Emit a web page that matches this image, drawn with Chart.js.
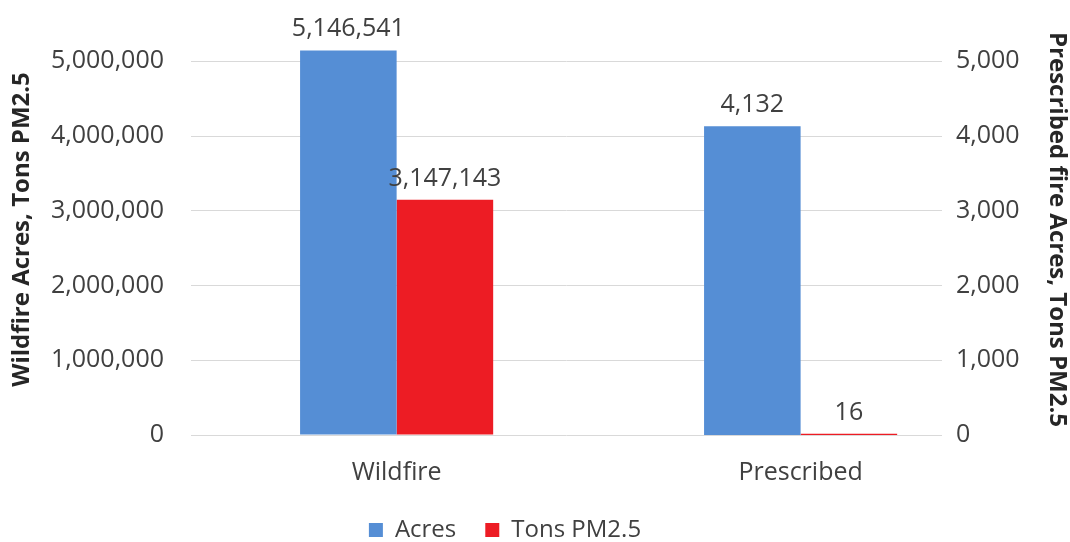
<!DOCTYPE html>
<html>
<head>
<meta charset="utf-8">
<title>Wildfire vs Prescribed fire</title>
<script src="https://cdn.jsdelivr.net/npm/chart.js@4.4.0/dist/chart.umd.min.js"></script>
<style>
  html, body { margin: 0; padding: 0; background: #fff; }
  #wrap { width: 1070px; height: 542px; position: relative; }
</style>
</head>
<body>
<div id="wrap"><canvas id="fireChart"></canvas></div>
<script>
var categories = ["Wildfire", "Prescribed"];
var seriesNames = ["Acres", "Tons PM2.5"];
// wildfire numbers use the left axis, prescribed fire the right one
var wildfireValues = [5146541, 3147143];
var prescribedValues = [4132, 16];
var leftTicks = [0, 1000000, 2000000, 3000000, 4000000, 5000000];
var rightTicks = [0, 1000, 2000, 3000, 4000, 5000];

var colors = ["#558ED5", "#ED1C24"];
var textColor = "#404040";
var fontFamily = "'Open Sans', sans-serif";

var datasets = [];
seriesNames.forEach(function (name, s) {
    datasets.push({
        label: name,
        yAxisID: "y",
        data: [{ x: 0, y: wildfireValues[s] }, { x: 1, y: null }],
        backgroundColor: colors[s]
    });
});
seriesNames.forEach(function (name, s) {
    datasets.push({
        label: name,
        yAxisID: "y1",
        data: [{ x: 0, y: null }, { x: 1, y: prescribedValues[s] }],
        backgroundColor: colors[s]
    });
});

// value labels above each bar
var barLabels = {
    id: "barLabels",
    afterDatasetsDraw: function (chart) {
        var ctx = chart.ctx;
        ctx.save();
        ctx.font = "25px " + fontFamily;
        ctx.fillStyle = textColor;
        ctx.textAlign = "center";
        ctx.textBaseline = "alphabetic";
        chart.data.datasets.forEach(function (ds, i) {
            var meta = chart.getDatasetMeta(i);
            meta.data.forEach(function (bar, j) {
                var v = ds.data[j].y;
                if (v === null) return;
                ctx.fillText(v.toLocaleString("en-US"), bar.x, bar.y - 14);
            });
        });
        ctx.restore();
    }
};

// legend sits a little left of the canvas centre
var legendShift = {
    id: "legendShift",
    afterLayout: function (chart) {
        if (!chart.legend) return;
        chart.legend.left -= 30;
        chart.legend.right -= 30;
    }
};

function setTicks(list) {
    return function (axis) {
        axis.ticks = list.map(function (v) { return { value: v }; });
    };
}

// keep the y axes from pushing the plot down for half a label
function fitY(width) {
    return function (scale) {
        scale.width = width;
        scale.paddingTop = 0;
        scale.paddingBottom = 0;
    };
}

var ctx = document.getElementById("fireChart").getContext("2d");
new Chart(ctx, {
    type: "bar",
    data: { datasets: datasets },
    plugins: [barLabels, legendShift],
    options: {
        responsive: true,
        maintainAspectRatio: false,
        animation: false,
        locale: "en-US",
        skipNull: true,
        barPercentage: 1,
        categoryPercentage: 0.478,
        layout: { padding: { top: 24, right: 0, bottom: -10, left: 0 } },
        plugins: {
            tooltip: { enabled: false },
            legend: {
                position: "bottom",
                labels: {
                    font: { family: fontFamily, size: 24 },
                    color: textColor,
                    boxWidth: 14,
                    boxHeight: 14,
                    padding: 29,
                    filter: function (item) { return item.datasetIndex < seriesNames.length; }
                }
            }
        },
        scales: {
            x: {
                type: "linear",
                offset: false,
                min: -0.509,
                max: 1.35,
                afterBuildTicks: setTicks(categories.map(function (c, i) { return i; })),
                afterFit: function (scale) { scale.height = 54; },
                grid: { display: false, drawTicks: false },
                border: { display: false },
                ticks: {
                    padding: 23,
                    maxRotation: 0,
                    autoSkip: false,
                    color: textColor,
                    font: { family: fontFamily, size: 25 },
                    callback: function (v) { return categories[v]; }
                }
            },
            y: {
                position: "left",
                min: 0,
                max: 5500000,
                afterBuildTicks: setTicks(leftTicks),
                afterFit: fitY(191),
                grid: { color: "#d9d9d9", drawTicks: false },
                border: { display: false },
                ticks: {
                    padding: 27,
                    color: textColor,
                    font: { family: fontFamily, size: 25 }
                },
                title: {
                    display: true,
                    text: "Wildfire Acres, Tons PM2.5",
                    color: "#262626",
                    font: { family: fontFamily, size: 24, weight: "bold", lineHeight: 1 },
                    padding: { top: 10, bottom: 0 }
                }
            },
            y1: {
                position: "right",
                min: 0,
                max: 5500,
                afterBuildTicks: setTicks(rightTicks),
                afterFit: fitY(128),
                grid: { display: false, drawTicks: false },
                border: { display: false },
                ticks: {
                    padding: 14,
                    color: textColor,
                    font: { family: fontFamily, size: 25 }
                },
                title: {
                    display: true,
                    text: "Prescribed fire Acres, Tons PM2.5",
                    color: "#262626",
                    font: { family: fontFamily, size: 24, weight: "bold", lineHeight: 1 },
                    padding: { top: 1, bottom: 0 }
                }
            }
        }
    }
});
</script>
</body>
</html>
